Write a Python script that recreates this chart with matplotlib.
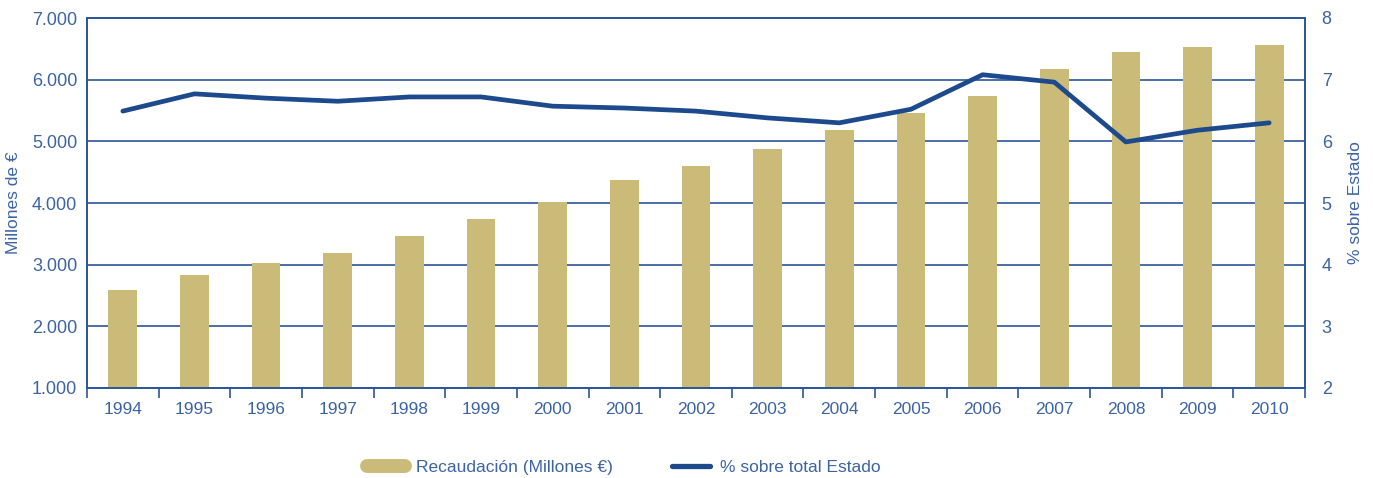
import numpy as np
import matplotlib.pyplot as plt
from matplotlib.lines import Line2D

plt.rcParams['font.family'] = ['Liberation Sans', 'DejaVu Sans']

years = ['1994', '1995', '1996', '1997', '1998', '1999', '2000', '2001', '2002',
         '2003', '2004', '2005', '2006', '2007', '2008', '2009', '2010']
recaudacion = [2590, 2830, 3030, 3190, 3465, 3740, 4015, 4370, 4600,
               4875, 5185, 5460, 5735, 6175, 6450, 6530, 6565]
pct_estado = [6.49, 6.77, 6.70, 6.65, 6.72, 6.72, 6.57, 6.54, 6.49,
              6.38, 6.30, 6.52, 7.08, 6.96, 5.99, 6.18, 6.30]

blue = '#2a5597'
line_blue = '#1d4a8c'
gold = '#cbbb78'
text_blue = '#3c64a3'

fig = plt.figure(figsize=(13.73, 4.78), dpi=100)
ax = fig.add_axes([87 / 1373, 1 - 388 / 478, (1305 - 87) / 1373, (388 - 18) / 478])
ax2 = ax.twinx()

x = np.arange(len(years))
ax.bar(x, recaudacion, width=0.4, color=gold, zorder=2)
ax.set_ylim(1000, 7000)
ax.set_xlim(-0.5, len(years) - 0.5)
ax.set_yticks(np.arange(1000, 7001, 1000))
ax.set_yticklabels([f'{v:,}'.replace(',', '.') for v in range(1000, 7001, 1000)])
ax.yaxis.grid(True, color=blue, linewidth=1.2, zorder=1)
ax.set_axisbelow(True)

ax.set_xticks(x)
ax.set_xticklabels(years)
ax.set_xticks(np.arange(-0.5, len(years), 1), minor=True)
ax.tick_params(axis='x', which='major', length=0, pad=10, labelsize=12.5, labelcolor=text_blue)
ax.tick_params(axis='x', which='minor', length=7, width=1.2, color=blue)
ax.tick_params(axis='y', length=0, pad=7, labelsize=13, labelcolor=text_blue)
ax.set_ylabel('Millones de €', color=text_blue, fontsize=12.5, labelpad=8)

ax2.plot(x, pct_estado, color=line_blue, linewidth=3.4, solid_capstyle='round',
         solid_joinstyle='round', zorder=3)
ax2.set_ylim(2, 8)
ax2.set_yticks(range(2, 9))
ax2.tick_params(axis='y', length=0, pad=12, labelsize=13, labelcolor=text_blue)
ax2.set_ylabel('% sobre Estado', color=text_blue, fontsize=12.5, labelpad=12)

for a in (ax, ax2):
    for s in a.spines.values():
        s.set_color(blue)
        s.set_linewidth(1.2)

handles = [
    Line2D([], [], color=gold, linewidth=10, solid_capstyle='round'),
    Line2D([], [], color=line_blue, linewidth=3.8, solid_capstyle='round'),
]
fig.legend(handles, ['Recaudación (Millones €)', '% sobre total Estado'],
           loc='center', bbox_to_anchor=(624 / 1373, 1 - 467 / 478), ncol=2,
           frameon=False, fontsize=12.5, labelcolor=text_blue,
           handlelength=2.2, columnspacing=3.4, handletextpad=0.6)

fig.savefig('out.png', dpi=100)
